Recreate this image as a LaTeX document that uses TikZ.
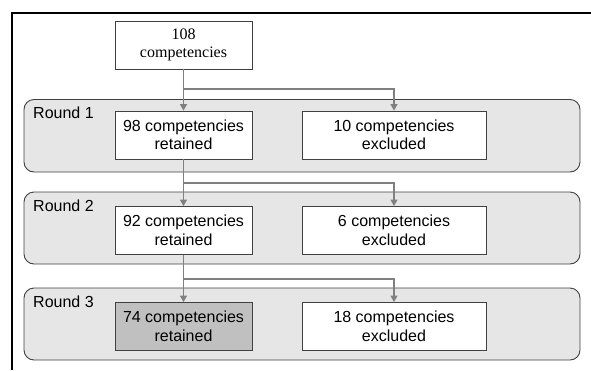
\documentclass[tikz,border=0pt]{standalone}
\usepackage{fontspec}
\setmainfont{Liberation Serif}
\setsansfont{Liberation Sans}
\usetikzlibrary{arrows.meta}
\definecolor{roundfill}{HTML}{E6E6E6}
\definecolor{roundedge}{HTML}{404040}
\definecolor{connc}{HTML}{808080}
\definecolor{finalfill}{HTML}{C0C0C0}
\tikzset{
  x=1pt,y=-1pt,
  roundbox/.style={draw=roundedge,fill=roundfill,line width=0.9pt,rounded corners=10pt},
  roundlabel/.style={anchor=base west,inner sep=0pt,font=\sffamily\fontsize{16}{19}\selectfont},
  nodebox/.style={draw=black!75,fill=white,line width=0.8pt,align=center,inner sep=0pt,
    minimum height=48pt,font=\sffamily\fontsize{16}{18.5}\selectfont},
  retbox/.style={nodebox,minimum width=137pt},
  exbox/.style={nodebox,minimum width=184pt},
  conn/.style={draw=connc,line width=1.1pt,-{Triangle[width=7pt,length=6.5pt]}},
}
\begin{document}
\begin{tikzpicture}
\useasboundingbox (0,0) rectangle (591,370);
% outer frame
\draw[line width=2pt] (11.5,370) -- (11.5,12.5) -- (591,12.5);
% round panels
\draw[roundbox] (24,99.5) rectangle (580,172);
\draw[roundbox] (24,192) rectangle (580,264);
\draw[roundbox] (24,288) rectangle (580,360);
\node[roundlabel] (l1) at (33,118) {Round 1};
\node[roundlabel] (l2) at (33,211) {Round 2};
\node[roundlabel] (l3) at (33,307) {Round 3};
% nodes
\node[retbox,font=\rmfamily\fontsize{16}{18}\selectfont] (top) at (183.5,45) {108\\competencies};
\node[retbox] (ret1) at (183.5,135) {98 competencies\\retained};
\node[exbox] (ex1) at (394,135) {10 competencies\\excluded};
\node[retbox] (ret2) at (183.5,230.5) {92 competencies\\retained};
\node[exbox] (ex2) at (394,230.5) {6 competencies\\excluded};
\node[retbox,fill=finalfill] (ret3) at (183.5,326.5) {74 competencies\\retained};
\node[exbox] (ex3) at (394,326.5) {18 competencies\\excluded};
% branch points
\coordinate (b1) at (183.5,89);
\coordinate (b2) at (183.5,183);
\coordinate (b3) at (183.5,279);
% connectors
\draw[conn] (top) -- (ret1);
\draw[conn] (b1) -| (ex1.north);
\draw[conn] (ret1) -- (ret2);
\draw[conn] (b2) -| (ex2.north);
\draw[conn] (ret2) -- (ret3);
\draw[conn] (b3) -| (ex3.north);
\end{tikzpicture}
\end{document}
